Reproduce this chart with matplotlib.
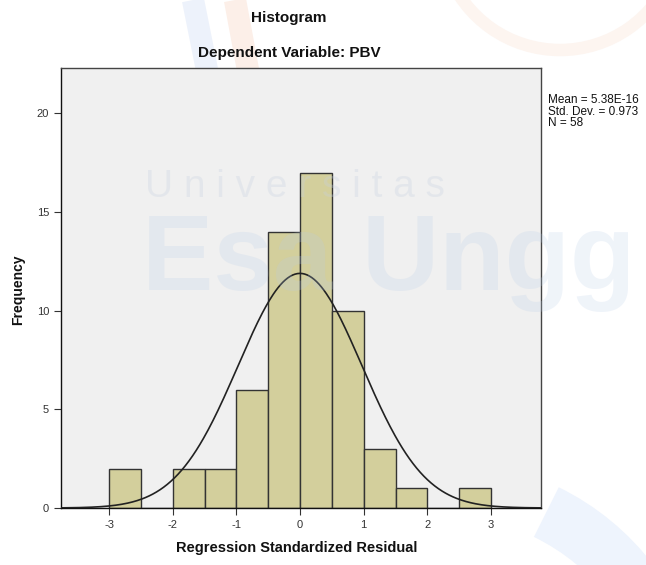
import numpy as np
import matplotlib
matplotlib.use("Agg")
import matplotlib.pyplot as plt
from matplotlib.patches import Arc

plt.rcParams['font.family'] = ['Liberation Sans', 'DejaVu Sans']

# Data
bin_edges_left = [-3.0, -2.5, -2.0, -1.5, -1.0, -0.5, 0.0, 0.5, 1.0, 1.5, 2.0, 2.5]
counts = [2, 0, 2, 2, 6, 14, 17, 10, 3, 1, 0, 1]
bin_width = 0.5
mean = 5.38e-16
sd = 0.973
n = 58
xticks = [-3, -2, -1, 0, 1, 2, 3]
yticks = [0, 5, 10, 15, 20]

W, H = 646, 565
fig = plt.figure(figsize=(W/100, H/100), dpi=100)

# faint watermark shapes (background)
wm = fig.add_axes([0, 0, 1, 1], zorder=-5)
wm.set_xlim(0, W); wm.set_ylim(H, 0); wm.axis('off')
wm.plot([193, 207], [0, 70], color='#edf2fb', lw=16, solid_capstyle='butt')
wm.plot([235, 248], [0, 70], color='#fcefe8', lw=16, solid_capstyle='butt')
wm.add_patch(Arc((560, -70), 240, 240, theta1=20, theta2=160, color='#fdf5f0', lw=9))
wm.add_patch(Arc((442, 726), 476, 476, theta1=296, theta2=350, color='#eef4fd', lw=40))

ax = fig.add_axes([61/W, 1-508/H, (541-61)/W, (508-68)/H])
ax.set_facecolor('#F0F0F0')
ax.bar(bin_edges_left, counts, width=bin_width, align='edge',
       color='#D3CF9C', edgecolor='#333333', linewidth=1.0, zorder=2)
xs = np.linspace(-3.75, 3.8, 400)
ys = n * bin_width / (sd * np.sqrt(2*np.pi)) * np.exp(-0.5*((xs-mean)/sd)**2)
ax.plot(xs, ys, color='#222222', lw=1.2, zorder=3)
ax.set_xlim(-3.754, 3.785)
ax.set_ylim(0, 22.3)
ax.set_xticks(xticks)
ax.set_xticklabels([str(t) for t in xticks])
ax.set_yticks(yticks)
ax.tick_params(axis='both', labelsize=8, colors='#333333', length=5, width=0.8, direction='out')
for s in ax.spines.values():
    s.set_color('#444444'); s.set_linewidth(1.0)
ax.spines['left'].set_color('#111111')
ax.spines['bottom'].set_color('#111111')

fig.text(289/W, 1-18/H, 'Histogram', ha='center', va='center', fontsize=11, fontweight='bold', color='#111111')
fig.text(289/W, 1-53/H, 'Dependent Variable: PBV', ha='center', va='center', fontsize=11, fontweight='bold', color='#111111')
fig.text(548/W, 1-94/H, 'Mean = 5.38E-16\nStd. Dev. = 0.973\nN = 58', ha='left', va='top',
         fontsize=8.5, color='#111111', linespacing=0.95)
fig.text(18/W, 1-290/H, 'Frequency', ha='center', va='center', rotation=90, fontsize=10, fontweight='bold', color='#111111')
fig.text(297/W, 1-548/H, 'Regression Standardized Residual', ha='center', va='center', fontsize=10.5, fontweight='bold', color='#111111')

# watermark text
fig.text(145/W, 1-187/H, 'U n i v e r s i t a s', ha='left', va='center', fontsize=28, color='#c8d2e0', alpha=0.3, zorder=10)
fig.text(142/W, 1-262/H, 'Esa Ungg', ha='left', va='center', fontsize=77, fontweight='bold', color='#b8cde8', alpha=0.22, zorder=10)

fig.savefig('out.png', dpi=100)
